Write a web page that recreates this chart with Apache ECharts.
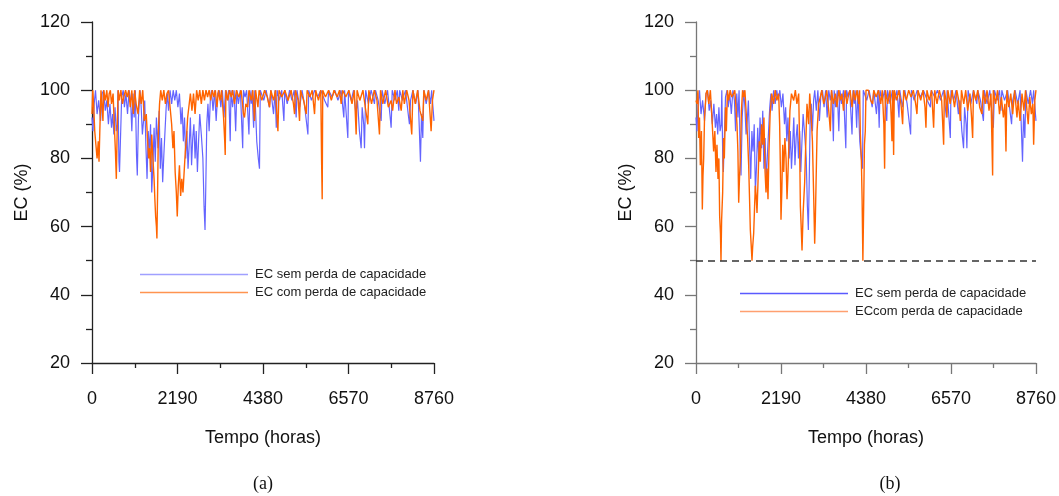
<!DOCTYPE html>
<html>
<head>
<meta charset="utf-8">
<script src="https://cdn.jsdelivr.net/npm/echarts@6/dist/echarts.min.js"></script>
<style>
  html, body { margin:0; padding:0; background:#fff; }
  #chart { width:1059px; height:496px; }
</style>
</head>
<body>
<div id="chart"></div>
<script>
// EC (%) ao longo do ano, [hora, valor]
const semPerda = [
  [0,92],[25,88],[55,96],[90,100],[130,93],[170,97],[220,91],[260,99],[300,100],[340,94],[380,97],[420,90],
  [460,96],[500,89],[530,93],[560,87],[590,95],[620,88],[650,90],[665,100],[690,79],[705,76],[730,86],[760,98],
  [800,100],[830,95],[870,99],[910,93],[950,100],[990,97],[1020,88],[1050,99],[1080,92],[1110,100],[1140,81],
  [1160,75],[1190,92],[1230,100],[1260,95],[1290,87],[1320,91],[1350,97],[1380,84],[1410,74],[1440,88],[1470,82],
  [1500,90],[1530,70],[1560,78],[1590,89],[1620,79],[1650,92],[1690,83],[1720,94],[1750,77],[1780,86],[1810,73],
  [1840,81],[1870,88],[1900,95],[1930,99],[1960,94],[2000,100],[2040,96],[2080,100],[2120,97],[2160,100],
  [2200,95],[2240,99],[2280,90],[2310,95],[2340,85],[2370,92],[2400,80],[2430,88],[2460,77],[2490,84],[2520,92],
  [2550,78],[2580,86],[2610,90],[2640,80],[2670,88],[2700,76],[2730,85],[2760,93],[2800,87],[2840,80],[2870,66],
  [2895,59],[2915,72],[2940,90],[2970,96],[3000,88],[3030,97],[3060,100],[3100,94],[3140,100],[3180,91],
  [3220,99],[3260,100],[3300,95],[3340,100],[3380,92],[3420,100],[3460,97],[3500,100],[3540,85],[3560,100],
  [3600,95],[3640,100],[3680,88],[3710,100],[3750,96],[3800,100],[3860,83],[3880,100],[3920,98],[3960,100],
  [4020,87],[4045,100],[4080,96],[4100,100],[4140,89],[4170,100],[4220,85],[4260,80],[4290,77],[4310,100],
  [4400,97],[4460,100],[4540,95],[4580,100],[4650,93],[4690,100],[4720,89],[4740,100],[4800,97],[4860,100],
  [4915,91],[4935,100],[5000,96],[5060,100],[5120,97],[5180,100],[5230,92],[5250,100],[5320,95],[5380,100],
  [5440,96],[5500,90],[5530,87],[5550,100],[5620,97],[5700,100],[5780,98],[5860,100],[5960,97],[6040,95],
  [6060,100],[6150,98],[6220,100],[6300,97],[6380,100],[6450,92],[6470,100],[6553,86],[6570,100],[6640,97],
  [6700,100],[6760,93],[6800,97],[6850,88],[6894,83],[6920,95],[6960,90],[6980,83],[7010,100],[7080,96],
  [7150,100],[7235,96],[7260,100],[7330,97],[7406,91],[7430,100],[7500,96],[7570,100],[7630,93],[7662,89],
  [7690,100],[7760,97],[7820,100],[7858,94],[7880,100],[7950,97],[8030,100],[8100,93],[8131,90],[8160,97],
  [8220,100],[8290,96],[8350,100],[8413,79],[8440,93],[8473,86],[8500,100],[8560,96],[8620,100],[8670,96],
  [8700,100],[8760,91]
];

const comPerdaA = [
  [0,93],[20,100],[40,96],[70,88],[100,84],[130,80],[160,85],[180,79],[200,88],[230,100],[260,95],[280,91],
  [300,100],[340,97],[380,100],[410,95],[440,99],[470,100],[500,96],[540,99],[570,90],[600,82],[623,74],[645,88],
  [670,100],[700,97],[740,100],[780,96],[836,99],[860,100],[900,98],[940,100],[980,95],[1020,100],[1060,93],
  [1090,100],[1130,96],[1180,93],[1220,100],[1260,96],[1300,100],[1340,91],[1390,93],[1420,86],[1450,80],
  [1475,83],[1500,76],[1530,87],[1560,80],[1590,74],[1610,68],[1630,63],[1650,60],[1663,56.5],[1680,70],
  [1700,88],[1730,96],[1760,100],[1800,97],[1840,100],[1880,96],[1920,99],[1960,100],[2000,95],[2040,90],
  [2073,83],[2100,88],[2130,76],[2160,70],[2184,63],[2210,72],[2240,78],[2270,69],[2300,74],[2330,70],[2360,76],
  [2390,82],[2420,86],[2450,92],[2480,95],[2520,99],[2560,94],[2600,99],[2640,93],[2680,100],[2720,97],
  [2760,100],[2800,96],[2840,100],[2880,97],[2920,100],[2960,98],[3000,100],[3040,97],[3080,100],[3120,98],
  [3160,100],[3200,95],[3240,100],[3280,97],[3320,100],[3370,92],[3400,85],[3412,81],[3430,100],[3480,97],
  [3520,100],[3565,98],[3600,100],[3650,96],[3700,100],[3760,98],[3820,100],[3880,93],[3906,92],[3940,96],
  [3990,95],[4020,100],[4080,97],[4120,100],[4163,91],[4190,100],[4250,95],[4280,100],[4350,97],[4420,100],
  [4490,98],[4550,95],[4580,100],[4650,97],[4700,100],[4740,92],[4762,88],[4790,100],[4860,98],[4940,100],
  [5020,97],[5100,100],[5160,96],[5188,93],[5210,100],[5280,97],[5316,91],[5340,100],[5420,97],[5487,93],
  [5510,100],[5580,98],[5640,100],[5700,93],[5730,100],[5800,97],[5860,100],[5880,80],[5896,68],[5910,100],
  [5980,98],[6060,100],[6130,97],[6200,100],[6280,98],[6340,100],[6383,96],[6420,100],[6500,98],[6580,100],
  [6660,96],[6720,100],[6766,87],[6790,100],[6860,97],[6940,100],[7000,95],[7065,90],[7090,100],[7160,96],
  [7230,100],[7300,97],[7363,87],[7390,100],[7450,96],[7520,100],[7590,95],[7662,97],[7700,94],[7760,100],
  [7800,96],[7860,98],[7920,94],[7960,100],[8000,96],[8060,100],[8120,97],[8190,87],[8220,100],[8280,96],
  [8340,100],[8400,94],[8473,91],[8500,100],[8560,97],[8620,100],[8686,88],[8720,97],[8760,100]
];

const comPerdaB = [
  [0,97],[26,96],[50,100],[69,86],[90,92],[112,78],[140,88],[163,65],[180,75],[198,80],[220,92],[258,99],
  [290,100],[330,96],[370,100],[410,92],[455,82],[485,88],[515,76],[540,84],[567,74],[590,80],[610,63],[630,58],
  [644,50],[660,62],[687,70],[710,86],[730,80],[760,95],[782,88],[810,100],[842,97],[880,100],[920,98],[970,99],
  [1000,100],[1030,95],[1056,90],[1080,82],[1100,67],[1120,74],[1142,80],[1170,94],[1200,100],[1228,98],
  [1260,100],[1300,92],[1330,86],[1357,78],[1380,68],[1400,59],[1420,55],[1443,50],[1460,54],[1486,58],
  [1510,66],[1529,72],[1550,69],[1572,64],[1600,74],[1630,85],[1658,79],[1690,90],[1720,84],[1750,92],
  [1780,76],[1804,70],[1830,77],[1855,68],[1880,82],[1910,93],[1950,99],[2000,96],[2040,100],[2080,97],
  [2130,99],[2155,90],[2173,78],[2190,62],[2210,70],[2235,84],[2260,76],[2290,86],[2320,80],[2345,68],
  [2365,74],[2388,82],[2420,94],[2460,99],[2517,97],[2560,100],[2600,96],[2646,99],[2670,84],[2689,66],
  [2710,60],[2732,53],[2760,64],[2800,73],[2830,85],[2860,96],[2903,90],[2930,99],[2960,94],[3000,85],
  [3030,70],[3058,55],[3075,62],[3092,72],[3120,88],[3160,96],[3204,98],[3240,100],[3290,96],[3333,98],
  [3370,100],[3420,94],[3462,88],[3490,100],[3540,96],[3590,99],[3630,95],[3680,100],[3720,97],[3760,99],
  [3800,94],[3840,100],[3890,96],[3934,99],[3970,100],[4020,95],[4060,100],[4100,97],[4150,100],[4190,96],
  [4215,100],[4235,87],[4260,80],[4280,68],[4300,50],[4320,66],[4340,84],[4362,88],[4380,100],[4440,100],
  [4500,97],[4551,96],[4580,100],[4640,98],[4700,100],[4760,96],[4800,100],[4840,90],[4860,77],[4880,100],
  [4940,96],[5000,100],[5030,92],[5049,85],[5070,100],[5092,81],[5110,100],[5170,97],[5230,100],[5290,95],
  [5324,90],[5350,100],[5420,97],[5480,100],[5540,98],[5600,100],[5660,96],[5693,93],[5720,100],[5790,97],
  [5850,100],[5900,95],[5925,89],[5950,100],[6010,97],[6070,100],[6123,89],[6150,100],[6210,96],[6270,100],
  [6330,97],[6381,84],[6400,100],[6440,97],[6466,92],[6490,100],[6550,96],[6600,100],[6660,95],[6720,100],
  [6770,97],[6810,91],[6840,100],[6900,96],[6950,100],[7000,94],[7060,99],[7100,92],[7128,86],[7150,100],
  [7210,97],[7260,100],[7310,95],[7368,93],[7400,100],[7450,96],[7500,100],[7550,94],[7600,99],[7643,75],
  [7660,100],[7720,96],[7770,100],[7820,93],[7870,98],[7920,92],[7960,96],[7987,82],[8010,100],[8060,95],
  [8110,99],[8160,93],[8210,100],[8270,92],[8300,97],[8350,91],[8400,99],[8450,94],[8490,100],[8528,94],
  [8560,90],[8600,98],[8640,93],[8680,96],[8700,84],[8730,97],[8760,100]
];

const limiteB = 50;
const nomeSem = 'EC sem perda de capacidade';
const nomeComA = 'EC com perda de capacidade';
const nomeComB = 'ECcom perda de capacidade';

const FONT = "Arial, 'Liberation Sans', sans-serif";
const BLUE = '#6464ff', ORANGE = '#ff6400';

function xAxisOf(grid, axisColor){
  return {
    type:'value', gridIndex:grid, min:0, max:8760, interval:2190,
    name:'Tempo (horas)', nameLocation:'middle', nameGap:66,
    nameTextStyle:{fontFamily:FONT, fontSize:18, color:'#111'},
    axisLine:{lineStyle:{color:axisColor, width:1.3}},
    axisTick:{length:11, lineStyle:{color:axisColor, width:1.3}},
    minorTick:{show:true, splitNumber:2, length:5, lineStyle:{color:axisColor, width:1.3}},
    axisLabel:{margin:27, fontFamily:FONT, fontSize:18, color:'#111', showMinLabel:true, showMaxLabel:true,
      formatter:v=>String(v)},
    splitLine:{show:false}
  };
}
function yAxisOf(grid, axisColor){
  return {
    type:'value', gridIndex:grid, min:20, max:120, interval:20,
    name:'EC (%)', nameLocation:'middle', nameGap:61,
    nameTextStyle:{fontFamily:FONT, fontSize:18, color:'#111'},
    axisLine:{show:true, lineStyle:{color:axisColor, width:1.3}},
    axisTick:{show:true, length:11, lineStyle:{color:axisColor, width:1.3}},
    minorTick:{show:true, splitNumber:2, length:6, lineStyle:{color:axisColor, width:1.3}},
    axisLabel:{margin:22, fontFamily:FONT, fontSize:18, color:'#111', formatter:v=>String(v)},
    splitLine:{show:false}
  };
}
const lineBase = {type:'line', showSymbol:false, animation:false, smooth:false};

const chart = echarts.init(document.getElementById('chart'), null, {renderer:'canvas'});
chart.setOption({
  backgroundColor:'#fff',
  animation:false,
  grid:[
    {left:92, top:22, width:342, bottom:133},
    {left:696, top:22, width:340, bottom:133}
  ],
  xAxis:[xAxisOf(0,'#222'), xAxisOf(1,'#777')],
  yAxis:[yAxisOf(0,'#222'), yAxisOf(1,'#777')],
  legend:[
    {orient:'vertical', left:135, top:263, itemWidth:108, itemHeight:1.5, itemGap:5, icon:'rect',
      textStyle:{fontFamily:FONT, fontSize:13, color:'#222', padding:[0,0,0,2]},
      data:[{name:nomeSem, itemStyle:{color:'#a0a0ff'}}, {name:nomeComA, itemStyle:{color:'#ff9450'}}]},
    {orient:'vertical', left:735, top:282, itemWidth:108, itemHeight:1.5, itemGap:5, icon:'rect',
      textStyle:{fontFamily:FONT, fontSize:13, color:'#222', padding:[0,0,0,2]},
      data:[{name:nomeSem, itemStyle:{color:'#5a5aff'}}, {name:nomeComB, itemStyle:{color:'#ffa070'}}]}
  ],
  graphic:[
    {type:'text', x:263, y:484, style:{text:'(a)', font:"18px 'Liberation Serif', 'Times New Roman', serif", fill:'#111', textAlign:'center', textVerticalAlign:'middle'}},
    {type:'text', x:890, y:484, style:{text:'(b)', font:"18px 'Liberation Serif', 'Times New Roman', serif", fill:'#111', textAlign:'center', textVerticalAlign:'middle'}}
  ],
  series:[
    {...lineBase, name:nomeSem, xAxisIndex:0, yAxisIndex:0, data:semPerda, lineStyle:{width:1.2, color:BLUE}, itemStyle:{color:BLUE}},
    {...lineBase, name:nomeComA, xAxisIndex:0, yAxisIndex:0, data:comPerdaA, lineStyle:{width:1.4, color:ORANGE}, itemStyle:{color:ORANGE}},
    {...lineBase, name:nomeSem, xAxisIndex:1, yAxisIndex:1, data:semPerda, lineStyle:{width:1.2, color:BLUE}, itemStyle:{color:BLUE}},
    {...lineBase, name:nomeComB, xAxisIndex:1, yAxisIndex:1, data:comPerdaB, lineStyle:{width:1.4, color:ORANGE}, itemStyle:{color:ORANGE},
      markLine:{silent:true, symbol:'none', label:{show:false}, animation:false,
        lineStyle:{color:'#333', width:1.5, type:[7,5]}, data:[{yAxis:limiteB}]}}
  ]
});
</script>
</body>
</html>
